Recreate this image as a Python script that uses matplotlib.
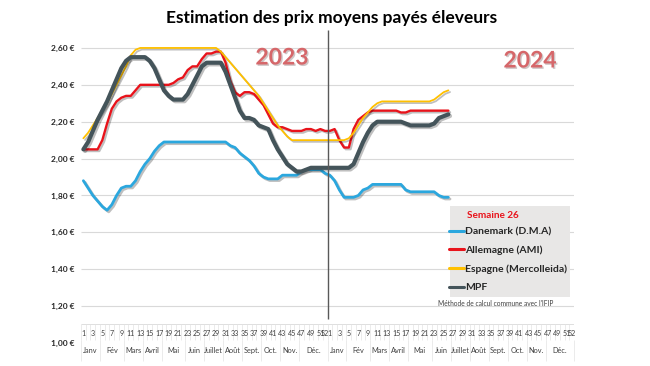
import numpy as np
import matplotlib
matplotlib.use("Agg")
import matplotlib.pyplot as plt
import matplotlib.patheffects as pe
from matplotlib.patches import Rectangle

plt.rcParams['font.family'] = ['Lato', 'DejaVu Sans']

# ---------------- data ----------------
weeks_per_year = 52
week_labels = [str(w) for w in range(1, 52, 2)] + ["52"]
week_label_nums = list(range(1, 52, 2)) + [52]
months = ["Janv", "Fév", "Mars", "Avril", "Mai", "Juin", "Juillet", "Août",
          "Sept.", "Oct.", "Nov.", "Déc."]
month_weeks = [4, 5, 4, 4, 5, 4, 4, 4, 4, 4, 4, 6]
yticks = [1.0, 1.2, 1.4, 1.6, 1.8, 2.0, 2.2, 2.4, 2.6]

dk_2023 = [1.88, 1.84, 1.80, 1.77, 1.74, 1.72, 1.75, 1.80, 1.84, 1.85,
           1.85, 1.88, 1.93, 1.97, 2.00, 2.04, 2.07, 2.09, 2.09, 2.09,
           2.09, 2.09, 2.09, 2.09, 2.09, 2.09, 2.09, 2.09, 2.09, 2.09,
           2.09, 2.07, 2.06, 2.03, 2.01, 1.99, 1.96, 1.92, 1.90, 1.89,
           1.89, 1.89, 1.91, 1.91, 1.91, 1.91, 1.93, 1.94, 1.94, 1.94,
           1.94, 1.92]
dk_2024 = [1.91, 1.88, 1.83, 1.79, 1.79, 1.79, 1.80, 1.83, 1.84, 1.86,
           1.86, 1.86, 1.86, 1.86, 1.86, 1.86, 1.83, 1.82, 1.82, 1.82,
           1.82, 1.82, 1.82, 1.80, 1.79, 1.79]

de_2023 = [2.05, 2.05, 2.05, 2.05, 2.10, 2.19, 2.27, 2.31, 2.33, 2.34,
           2.34, 2.37, 2.40, 2.40, 2.40, 2.40, 2.40, 2.40, 2.40, 2.41,
           2.43, 2.44, 2.48, 2.50, 2.50, 2.54, 2.57, 2.57, 2.58, 2.58,
           2.52, 2.42, 2.36, 2.34, 2.36, 2.36, 2.35, 2.32, 2.29, 2.24,
           2.19, 2.17, 2.17, 2.16, 2.15, 2.15, 2.15, 2.16, 2.16, 2.15,
           2.16, 2.15]
de_2024 = [2.15, 2.16, 2.10, 2.06, 2.06, 2.16, 2.21, 2.23, 2.25, 2.26,
           2.26, 2.26, 2.26, 2.26, 2.26, 2.25, 2.25, 2.26, 2.26, 2.26,
           2.26, 2.26, 2.26, 2.26, 2.26, 2.26]

es_2023 = [2.11, 2.14, 2.18, 2.22, 2.26, 2.30, 2.35, 2.40, 2.45, 2.50,
           2.56, 2.59, 2.60, 2.60, 2.60, 2.60, 2.60, 2.60, 2.60, 2.60,
           2.60, 2.60, 2.60, 2.60, 2.60, 2.60, 2.60, 2.60, 2.60, 2.58,
           2.55, 2.52, 2.49, 2.46, 2.43, 2.40, 2.37, 2.34, 2.30, 2.26,
           2.22, 2.18, 2.15, 2.12, 2.10, 2.10, 2.10, 2.10, 2.10, 2.10,
           2.10, 2.10]
es_2024 = [2.10, 2.10, 2.10, 2.10, 2.11, 2.14, 2.18, 2.22, 2.25, 2.28,
           2.30, 2.31, 2.31, 2.31, 2.31, 2.31, 2.31, 2.31, 2.31, 2.31,
           2.31, 2.31, 2.32, 2.34, 2.36, 2.37]

mpf_2023 = [2.05, 2.09, 2.15, 2.21, 2.26, 2.31, 2.37, 2.43, 2.49, 2.53,
            2.55, 2.55, 2.55, 2.55, 2.53, 2.49, 2.43, 2.37, 2.34, 2.32,
            2.32, 2.32, 2.35, 2.40, 2.45, 2.50, 2.52, 2.52, 2.52, 2.52,
            2.47, 2.40, 2.33, 2.26, 2.22, 2.22, 2.21, 2.18, 2.17, 2.16,
            2.10, 2.05, 2.01, 1.97, 1.95, 1.93, 1.93, 1.94, 1.95, 1.95,
            1.95, 1.95]
mpf_2024 = [1.95, 1.95, 1.95, 1.95, 1.95, 1.97, 2.03, 2.09, 2.14, 2.18,
            2.20, 2.20, 2.20, 2.20, 2.20, 2.20, 2.19, 2.18, 2.18, 2.18,
            2.18, 2.18, 2.19, 2.22, 2.23, 2.24]

series_names = ["Danemark (D.M.A)", "Allemagne (AMI)", "Espagne (Mercolleida)", "MPF"]
series_colors = ["#2BA7DE", "#E8131B", "#FFC000", "#44545A"]
series_widths = [2.0, 1.7, 1.3, 3.0]

# ---------------- figure ----------------
W, H = 650, 366
fig = plt.figure(figsize=(W / 100, H / 100), dpi=100)
ax = fig.add_axes([81 / W, 23 / H, 493 / W, 313.5 / H])
n_total = 2 * weeks_per_year
ax.set_xlim(-0.5, n_total - 0.5)
ax.set_ylim(1.0, 2.70)
for s in ax.spines.values():
    s.set_visible(False)

# gridlines
grid_vals = [v for v in yticks if v > 1.0]
ax.hlines(grid_vals, -0.5, n_total - 0.5, color="#D9D9D9", lw=0.8, zorder=0)

# y tick labels
ax.set_yticks(yticks)
ax.set_yticklabels([f"{v:.2f} €".replace(".", ",") for v in yticks],
                   fontsize=6, fontweight="bold", color="#262626")
ax.tick_params(axis="y", length=0, pad=5)
ax.set_xticks([])

# lines
all_data = [(dk_2023, dk_2024), (de_2023, de_2024), (es_2023, es_2024), (mpf_2023, mpf_2024)]
handles = []
for (a, b), name, col, lw in zip(all_data, series_names, series_colors, series_widths):
    y = np.array(a + b, dtype=float)
    x = np.arange(len(y))
    ln, = ax.plot(x, y, color=col, lw=lw, label=name, solid_capstyle="round",
                  solid_joinstyle="round", zorder=3,
                  path_effects=[pe.SimpleLineShadow(offset=(1.2, -1.2), alpha=0.25, shadow_color="black"),
                                pe.Normal()])
    handles.append(ln)

# year separator
ax.vlines(weeks_per_year - 0.5, 1.13, 2.70, color="#595959", lw=1.0, zorder=4)

# category axis (two-level)
axis_y = 1.103
ax.hlines(axis_y, -0.5, n_total - 0.5, color="#D9D9D9", lw=0.6, zorder=1)
bounds = np.arange(-0.5, n_total, 1.0)
ax.vlines(bounds, 1.016, axis_y, color="#E3E3E3", lw=0.5, zorder=1)
for yr in range(2):
    off = yr * weeks_per_year
    for wl, wn in zip(week_labels, week_label_nums):
        ax.text(off + wn - 1, 1.05, wl, fontsize=5.1, color="#404040",
                ha="center", va="center")
    start = 0
    for mname, nw in zip(months, month_weeks):
        ax.vlines(off + start - 0.5, 0.90, 1.016, color="#E3E3E3", lw=0.5, clip_on=False)
        ax.text(off + start + (nw - 1) / 2, 0.957, mname, fontsize=5.3, color="#404040",
                ha="center", va="center", clip_on=False)
        start += nw
ax.vlines(n_total - 0.5, 0.90, 1.016, color="#E3E3E3", lw=0.5, clip_on=False)

# title
fig.text(332 / W, 1 - 18 / H, "Estimation des prix moyens payés éleveurs",
         fontsize=12.5, fontweight="bold", ha="center", va="center", color="black")

# year labels
year_fx = [pe.withSimplePatchShadow(offset=(1, -1), alpha=0.25)]
fig.text(282 / W, 1 - 58 / H, "2023", fontsize=16.5, fontweight="bold", color="#D6676A",
         ha="center", va="center", path_effects=year_fx)
fig.text(530 / W, 1 - 61 / H, "2024", fontsize=16.5, fontweight="bold", color="#D6676A",
         ha="center", va="center", path_effects=year_fx)

# legend
fig.patches.append(Rectangle((450 / W, 1 - 297 / H), 120 / W, 91 / H,
                             transform=fig.transFigure, facecolor="#E8E7E6",
                             edgecolor="none", zorder=5))
fig.text(467 / W, 1 - 215 / H, "Semaine 26", fontsize=7.2, fontweight="bold",
         color="#E8131B", ha="left", va="center", zorder=6)
leg = fig.legend(handles=handles, loc="upper left",
                 bbox_to_anchor=(449 / W, 1 - 227 / H), frameon=False,
                 prop={"weight": "bold", "size": 7.5}, handlelength=1.4,
                 handletextpad=0.12, labelspacing=0.88, borderpad=0, borderaxespad=0)
leg.set_zorder(6)
for t in leg.get_texts():
    t.set_color("#262626")
for h in leg.legend_handles:
    h.set_path_effects([])
    h.set_linewidth(2.2)

fig.text(496 / W, 1 - 303 / H, "Méthode de calcul commune avec l'IFIP",
         fontsize=4.8, color="#404040", ha="center", va="center")

fig.savefig("out.png", dpi=100)
